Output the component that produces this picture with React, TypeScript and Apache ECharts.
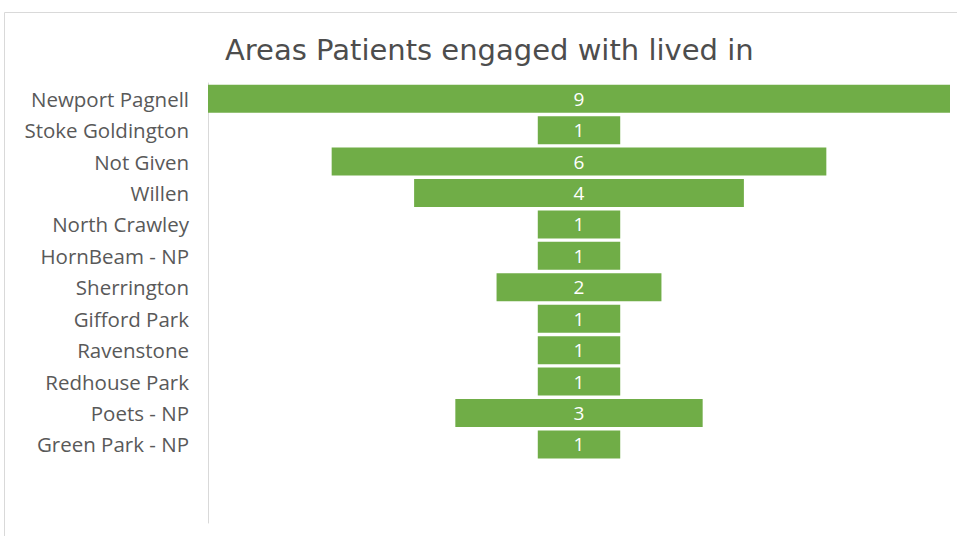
import React, { useEffect, useRef } from "react";
import * as echarts from "echarts";

const categories = [
  "Newport Pagnell",
  "Stoke Goldington",
  "Not Given",
  "Willen",
  "North Crawley",
  "HornBeam - NP",
  "Sherrington",
  "Gifford Park",
  "Ravenstone",
  "Redhouse Park",
  "Poets - NP",
  "Green Park - NP",
  "",
  " ",
];
const values: (number | null)[] = [9, 1, 6, 4, 1, 1, 2, 1, 1, 1, 3, 1, null, null];
const maxValue = 9;

export default function App() {
  const ref = useRef<HTMLDivElement>(null);
  useEffect(() => {
    if (!ref.current) return;
    const chart = echarts.init(ref.current, undefined, { renderer: "svg" });
    const offsets = values.map((v) => (v == null ? null : (maxValue - v) / 2));
    chart.setOption({
      animation: false,
      backgroundColor: "#ffffff",
      title: {
        text: "Areas Patients engaged with lived in",
        left: 220,
        top: 30,
        textStyle: {
          fontFamily: "DejaVu Sans",
          fontSize: 29,
          fontWeight: "normal",
          color: "#4d4d4d",
        },
      },
      graphic: [
        {
          type: "rect",
          shape: { x: 4.5, y: 12.5, width: 1000, height: 600 },
          style: { fill: "none", stroke: "#d9d9d9", lineWidth: 1 },
          silent: true,
        },
      ],
      grid: { left: 208, right: 7, top: 83, bottom: 13, containLabel: false },
      xAxis: {
        type: "value",
        min: 0,
        max: maxValue,
        show: false,
      },
      yAxis: {
        type: "category",
        data: categories,
        inverse: true,
        axisLine: { show: true, lineStyle: { color: "#d9d9d9", width: 1 } },
        axisTick: { show: false },
        axisLabel: {
          margin: 19,
          fontFamily: "Open Sans",
          fontSize: 20.5,
          color: "#595959",
        },
      },
      series: [
        {
          type: "bar",
          stack: "funnel",
          data: offsets,
          itemStyle: { color: "transparent" },
          barWidth: "89%",
          silent: true,
        },
        {
          type: "bar",
          stack: "funnel",
          data: values,
          barWidth: "89%",
          itemStyle: { color: "#70ad47" },
          label: {
            show: true,
            position: "inside",
            color: "#ffffff",
            fontFamily: "Open Sans",
            fontSize: 19,
          },
        },
      ],
    });
    return () => chart.dispose();
  }, []);
  return (
    <div
      ref={ref}
      style={{ position: "fixed", left: 0, top: 0, width: 957, height: 536 }}
    />
  );
}
